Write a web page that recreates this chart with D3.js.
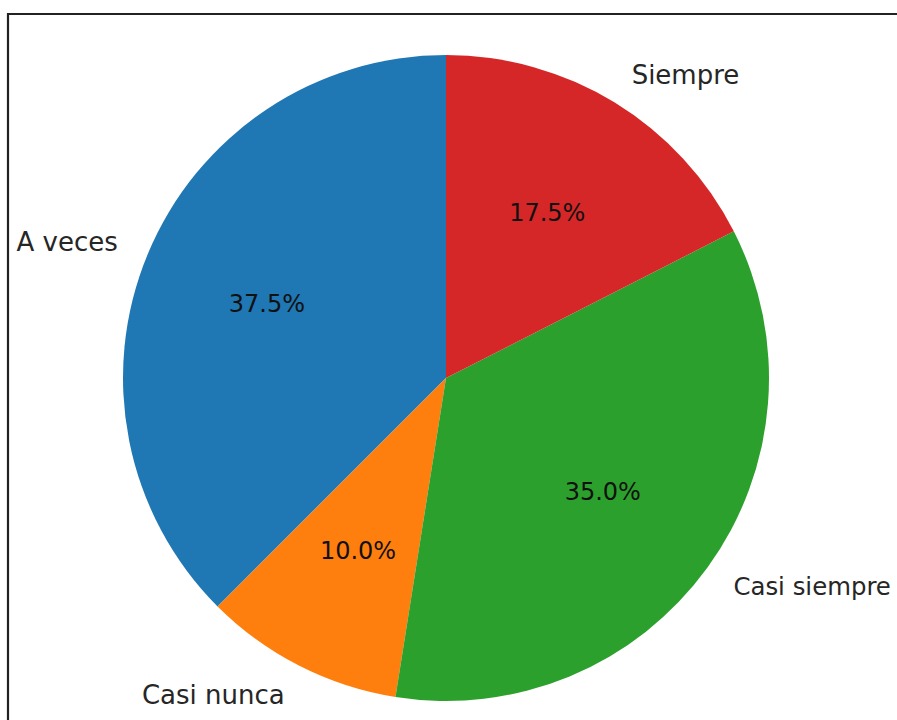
<!DOCTYPE html>
<html>
<head>
<meta charset="utf-8">
<script src="https://cdn.jsdelivr.net/npm/d3@7"></script>
<style>
  html, body { margin: 0; padding: 0; background: #fff; }
  svg { display: block; }
</style>
</head>
<body>
<svg id="chart" width="897" height="720"></svg>
<script>
const categories = ["A veces", "Casi nunca", "Casi siempre", "Siempre"];
const values = [37.5, 10.0, 35.0, 17.5];
const colors = ["#1f77b4", "#ff7f0e", "#2ca02c", "#d62728"];

const W = 897, H = 720;
const cx = 446, cy = 378, R = 323;

const svg = d3.select("#chart");

// frame
svg.append("path")
  .attr("d", `M${W + 5},14 L8,14 L8,${H + 5}`)
  .attr("fill", "none")
  .attr("stroke", "#222")
  .attr("stroke-width", 2.2);

const data = categories.map((c, i) => ({ label: c, value: values[i], color: colors[i] }));

// matplotlib style: start at top, counterclockwise
const pie = d3.pie().sort(null).value(d => d.value)
  .startAngle(0).endAngle(-2 * Math.PI);
const arcs = pie(data);
const arc = d3.arc().innerRadius(0).outerRadius(R);

const g = svg.append("g").attr("transform", `translate(${cx},${cy})`);

g.selectAll("path.slice").data(arcs).join("path")
  .attr("class", "slice")
  .attr("d", arc)
  .attr("fill", d => d.data.color);

function pos(d, k) {
  const a = (d.startAngle + d.endAngle) / 2; // d3 angle: 0 at top, clockwise positive
  return [k * R * Math.sin(a), -k * R * Math.cos(a)];
}

const labelSize = 26;
const labels = g.selectAll("text.lbl").data(arcs).join("text")
  .attr("class", "lbl")
  .attr("x", d => pos(d, 1.1)[0])
  .attr("y", d => pos(d, 1.1)[1])
  .attr("text-anchor", d => pos(d, 1.1)[0] >= 0 ? "start" : "end")
  .attr("dominant-baseline", "central")
  .attr("font-family", "DejaVu Sans")
  .attr("font-size", labelSize)
  .attr("fill", "#262626")
  .text(d => d.data.label);

// keep labels inside the page (shrink slightly if needed)
labels.each(function(d) {
  const bb = this.getBBox();
  const right = cx + bb.x + bb.width;
  const limit = W - 6;
  if (right > limit) {
    const avail = limit - (cx + bb.x);
    d3.select(this).attr("font-size", Math.floor(labelSize * avail / bb.width * 10) / 10);
  }
});

g.selectAll("text.pct").data(arcs).join("text")
  .attr("class", "pct")
  .attr("x", d => pos(d, 0.6)[0])
  .attr("y", d => pos(d, 0.6)[1])
  .attr("text-anchor", "middle")
  .attr("dominant-baseline", "central")
  .attr("font-family", "DejaVu Sans")
  .attr("font-size", 24)
  .attr("fill", "#111")
  .text(d => d.data.value.toFixed(1) + "%");
</script>
</body>
</html>
